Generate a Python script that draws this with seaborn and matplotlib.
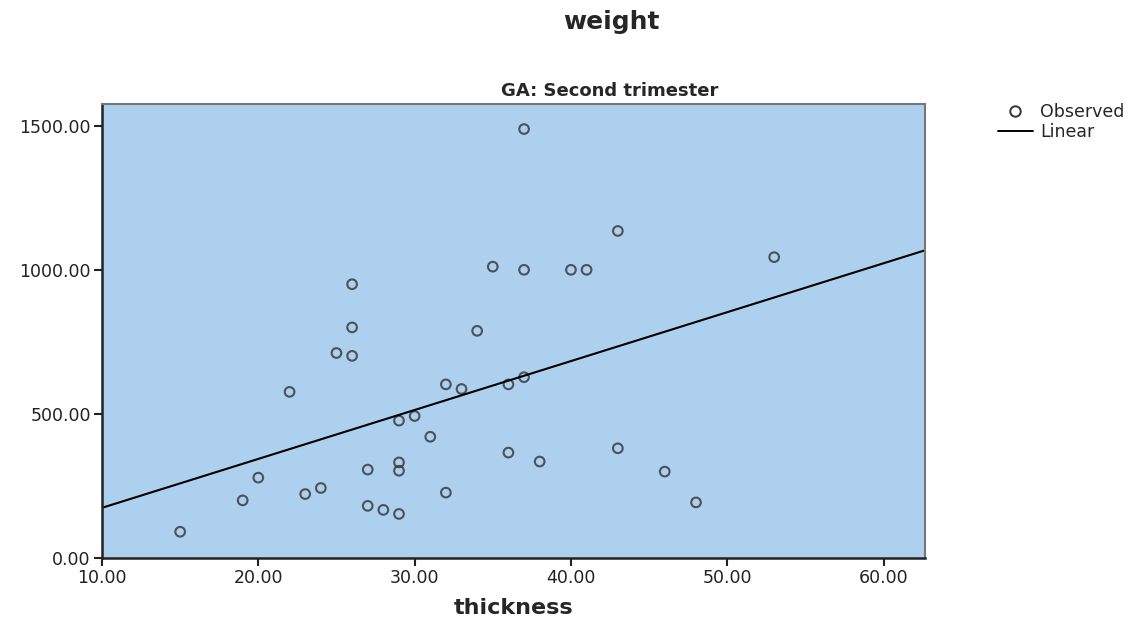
import numpy as np
import pandas as pd
import seaborn as sns
import matplotlib.pyplot as plt
from matplotlib.lines import Line2D

thickness = [15, 19, 20, 22, 23, 24, 25, 26, 26, 26, 27, 27, 28, 29, 29, 29, 29,
             30, 31, 32, 32, 33, 34, 35, 36, 36, 37, 37, 37, 38, 40, 41, 43, 43,
             46, 48, 53]
weight = [90, 199, 278, 576, 221, 242, 711, 950, 800, 701, 306, 180, 166, 152,
          476, 331, 302, 492, 420, 602, 226, 586, 788, 1011, 602, 365, 1489,
          1000, 627, 334, 1000, 1000, 1135, 380, 299, 192, 1044]

df = pd.DataFrame({'thickness': thickness, 'weight': weight})

sns.set_style('ticks')
plt.rcParams['font.family'] = ['DejaVu Sans']

fig = plt.figure(figsize=(11.42, 6.24), dpi=100)
ax = fig.add_axes([0.0893, 0.1063, 0.7207, 0.727])
ax.set_facecolor('#acd0ee')
ax.set_xlim(10, 62.65)
ax.set_ylim(0, 1576)

sns.regplot(data=df, x='thickness', y='weight', ax=ax, ci=None, truncate=False,
            color='#333333',
            scatter_kws={'facecolors': 'none', 'edgecolors': '#333333',
                         's': 48, 'linewidths': 1.5},
            line_kws={'color': 'black', 'lw': 1.5})

ax.set_xticks([10, 20, 30, 40, 50, 60])
ax.set_xticklabels([f'{v:.2f}' for v in [10, 20, 30, 40, 50, 60]])
ax.set_yticks([0, 500, 1000, 1500])
ax.set_yticklabels([f'{v:.2f}' for v in [0, 500, 1000, 1500]])
ax.tick_params(axis='both', labelsize=12.5, length=6, width=1.5, color='#222222',
               labelcolor='#222222', direction='out', pad=2)
ax.set_xlabel('thickness', fontsize=16, fontweight='bold', labelpad=8)
ax.set_ylabel('')
for side in ['left', 'bottom']:
    ax.spines[side].set_color('#222222')
    ax.spines[side].set_linewidth(1.8)
for side in ['top', 'right']:
    ax.spines[side].set_visible(True)
    ax.spines[side].set_color('#777777')
    ax.spines[side].set_linewidth(1.5)

fig.text(0.535, 0.965, 'weight', ha='center', va='center', fontsize=18, fontweight='bold')
fig.text(0.534, 0.854, 'GA: Second trimester', ha='center', va='center', fontsize=13,
         fontweight='bold')

handles = [Line2D([], [], marker='o', linestyle='none', markerfacecolor='none',
                  markeredgecolor='#333333', markersize=7.5, markeredgewidth=1.4),
           Line2D([], [], color='black', lw=1.4)]
fig.legend(handles, ['Observed', 'Linear'], loc='upper left', bbox_to_anchor=(0.874, 0.835),
           frameon=False, fontsize=12.5, handlelength=2.0, handletextpad=0.4,
           labelspacing=0.1, borderpad=0, borderaxespad=0)

plt.savefig('out.png', dpi=100)
plt.close()
